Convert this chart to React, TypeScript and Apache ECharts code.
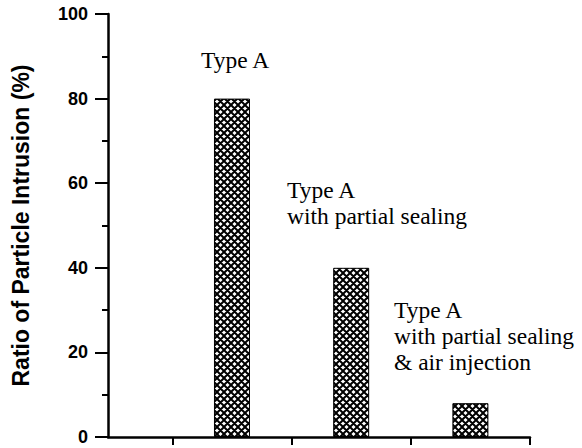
import React, { useEffect, useRef } from "react";
import * as echarts from "echarts";

// Data
const categories = [
  "Type A",
  "Type A with partial sealing",
  "Type A with partial sealing & air injection",
];
const barPositions = [1.5, 2.5, 3.5];
const intrusionValues = [80, 40, 8];
const xTickValues = [1, 2, 3, 4];
const annotationLines = [
  ["Type A"],
  ["Type A", "with partial sealing"],
  ["Type A", "with partial sealing", "& air injection"],
];
const yAxisName = "Ratio of Particle Intrusion (%)";

const annotationPos = [
  { left: 201, top: 47 },
  { left: 287, top: 177 },
  { left: 394, top: 297 },
];

function makeHatch(): HTMLCanvasElement {
  const size = 7;
  const step = 7;
  const c = document.createElement("canvas");
  c.width = size;
  c.height = size;
  const ctx = c.getContext("2d")!;
  ctx.fillStyle = "#fff";
  ctx.fillRect(0, 0, size, size);
  ctx.strokeStyle = "#000";
  ctx.lineWidth = 2;
  ctx.beginPath();
  for (let k = -2; k <= 2; k++) {
    const o = k * step;
    ctx.moveTo(-2, -2 + o);
    ctx.lineTo(size + 2, size + 2 + o);
    ctx.moveTo(-2, size + 2 + o);
    ctx.lineTo(size + 2, -2 + o);
  }
  ctx.stroke();
  return c;
}

export default function App() {
  const ref = useRef<HTMLDivElement>(null);
  useEffect(() => {
    if (!ref.current) return;
    const chart = echarts.init(ref.current, null, { renderer: "svg" });
    const hatch = makeHatch();
    const option: any = {
      animation: false,
      backgroundColor: "#ffffff",
      grid: { left: 108, right: 52, top: 14, height: 423, containLabel: false },
      xAxis: {
        type: "value",
        min: 0.46,
        max: 4,
        axisLine: { show: true, onZero: false, lineStyle: { color: "#000", width: 2.5 } },
        axisTick: {
          show: true,
          customValues: xTickValues,
          length: 8,
          inside: false,
          lineStyle: { color: "#000", width: 2 },
        },
        axisLabel: { show: false },
        splitLine: { show: false },
      },
      yAxis: {
        type: "value",
        min: 0,
        max: 100,
        interval: 20,
        name: yAxisName,
        nameLocation: "middle",
        nameGap: 76,
        nameRotate: 90,
        nameTextStyle: {
          fontFamily: "Liberation Sans",
          fontWeight: "bold",
          fontSize: 23,
          color: "#000",
        },
        axisLine: { show: true, lineStyle: { color: "#000", width: 2.5 } },
        axisTick: { show: true, length: 13, lineStyle: { color: "#000", width: 2 } },
        minorTick: { show: true, splitNumber: 2, length: 6, lineStyle: { color: "#000", width: 2 } },
        minorSplitLine: { show: false },
        splitLine: { show: false },
        axisLabel: {
          margin: 20,
          fontFamily: "Liberation Sans",
          fontWeight: "bold",
          fontSize: 18,
          color: "#000",
        },
      },
      series: [
        {
          type: "bar",
          name: "Ratio",
          barWidth: 36,
          data: barPositions.map((x, i) => ({ value: [x, intrusionValues[i]], name: categories[i] })),
          itemStyle: {
            color: { image: hatch, repeat: "repeat" },
            borderColor: "#000",
            borderWidth: 1,
          },
        },
      ],
      graphic: annotationLines.map((lines, i) => ({
        type: "text",
        left: annotationPos[i].left,
        top: annotationPos[i].top,
        style: {
          text: lines.join("\n"),
          fontFamily: "Liberation Serif",
          fontSize: 23.5,
          lineHeight: 26,
          fill: "#000",
          textAlign: "left",
        },
      })),
    };
    chart.setOption(option);
    return () => chart.dispose();
  }, []);
  return (
    <div
      ref={ref}
      style={{ position: "fixed", left: 0, top: 0, width: 582, height: 448, background: "#fff" }}
    />
  );
}
